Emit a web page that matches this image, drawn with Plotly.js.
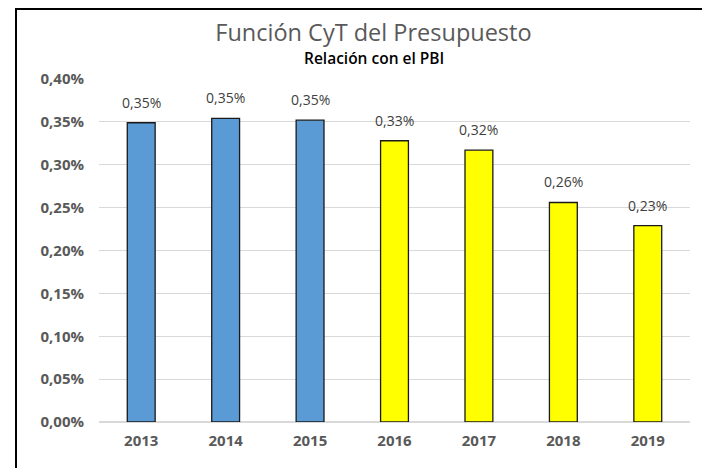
<!DOCTYPE html>
<html>
<head>
<meta charset="utf-8">
<script src="https://cdn.plot.ly/plotly-3.0.1.min.js"></script>
<style>
html,body{margin:0;padding:0;background:#fff;}
#wrap{position:relative;width:702px;height:468px;overflow:hidden;}
#frame{position:absolute;left:15px;top:8px;width:800px;height:600px;border-left:2px solid #000;border-top:2px solid #000;pointer-events:none;z-index:5;}
#chart{position:absolute;left:0;top:0;width:702px;height:468px;}
</style>
</head>
<body>
<div id="wrap"><div id="chart"></div><div id="frame"></div></div>
<script>
const years = ['2013','2014','2015','2016','2017','2018','2019'];
const values = [0.00349, 0.00354, 0.00352, 0.00328, 0.00317, 0.00256, 0.00229];
const barColors = ['#5B9BD5','#5B9BD5','#5B9BD5','#FFFF00','#FFFF00','#FFFF00','#FFFF00'];
const yTicks = [0,0.0005,0.001,0.0015,0.002,0.0025,0.003,0.0035,0.004];
const titleText = 'Función CyT del Presupuesto';
const subtitleText = 'Relación con el PBI';

const font = '"Open Sans", Calibri, sans-serif';
const trace = {
  type:'bar', x:years, y:values,
  marker:{color:barColors, line:{color:'#1a1a1a', width:1.3}},
  width:0.33,
  hoverinfo:'none'
};
const labelAnn = years.map((yr,i)=>({
  x:i, y:values[i], xref:'x', yref:'y',
  text:(values[i]*100).toFixed(2).replace('.',',')+'%',
  showarrow:false, yanchor:'bottom', xanchor:'center', yshift:9,
  font:{family:font, size:14, color:'#404040'}
}));
const layout = {
  width:702, height:468,
  margin:{l:99, r:12, t:79, b:46},
  paper_bgcolor:'#fff', plot_bgcolor:'#fff',
  separators:',.',
  showlegend:false,
  title:{text:titleText, font:{family:font, size:23.5, color:'#595959'}, x:0.532, xanchor:'center', y:1-33/468, yanchor:'middle', yref:'container'},
  annotations:[{text:subtitleText, xref:'paper', yref:'paper', x:(374-99)/591, y:(422-58)/343, xanchor:'center', yanchor:'middle', showarrow:false, font:{family:font, size:15.5, color:'#000', weight:600}}].concat(labelAnn),
  xaxis:{type:'category', categoryarray:years, range:[-0.5,6.5], showgrid:false, zeroline:false, showline:false, ticks:'', tickfont:{family:font, size:15, color:'#595959', weight:'bold'}, ticklabelstandoff:8},
  yaxis:{range:[0,0.004], tickvals:yTicks, tickformat:'.2%', showgrid:true, gridcolor:'#d9d9d9', gridwidth:1, zeroline:true, zerolinecolor:'#d9d9d9', zerolinewidth:1.5, showline:false, ticks:'', tickfont:{family:font, size:15, color:'#595959', weight:'bold'}, ticklabelstandoff:14}
};
Plotly.newPlot('chart',[trace],layout,{displayModeBar:false, staticPlot:true});
</script>
</body>
</html>
